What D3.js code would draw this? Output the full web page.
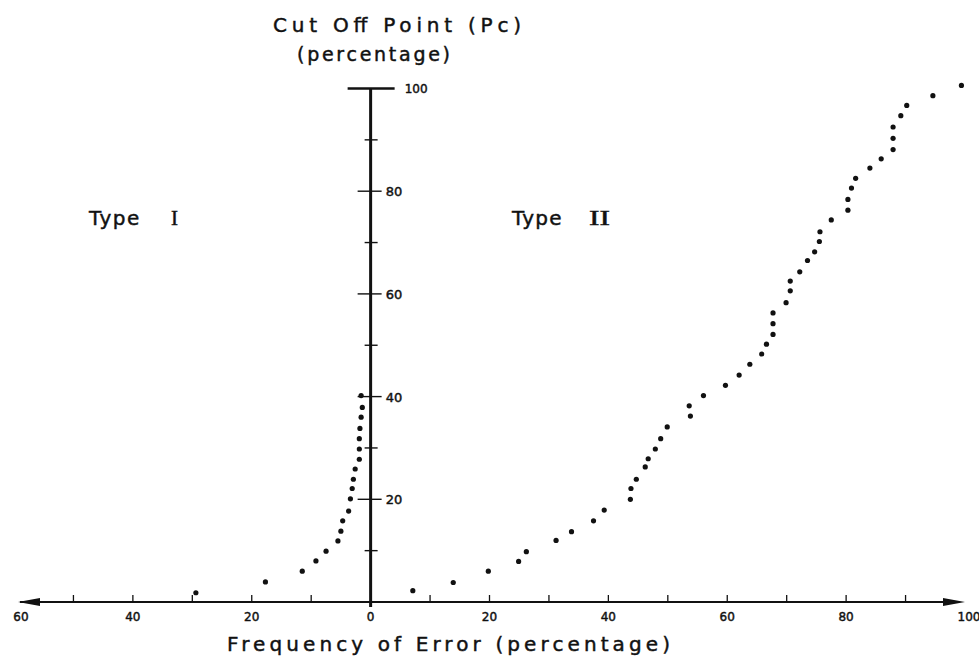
<!DOCTYPE html>
<html>
<head>
<meta charset="utf-8">
<script src="https://cdn.jsdelivr.net/npm/d3@7"></script>
<style>
  html, body { margin: 0; padding: 0; background: #fff; }
  svg { display: block; }
  text { font-family: "DejaVu Sans", sans-serif; fill: #111; stroke: #111; stroke-width: 0.45px; }
</style>
</head>
<body>
<svg id="chart" width="979" height="656"></svg>
<script>
// ---- data ----
// Type I error (percentage, drawn to the left of the vertical axis) by cut off point Pc
const typeICutoff = [40.2, 37.9, 36.0, 33.8, 31.8, 29.8, 27.8, 25.9, 23.9, 22.1, 20.1, 17.7, 15.8, 13.8, 11.9, 9.9, 8.0, 6.0, 3.9, 1.8];
const typeIError  = [1.6, 1.4, 1.6, 1.8, 1.9, 1.9, 1.9, 2.6, 2.9, 3.1, 3.4, 3.7, 4.7, 5.0, 5.5, 7.5, 9.2, 11.5, 17.7, 29.4];
// Type II error (percentage, drawn to the right) by cut off point Pc
const typeIICutoff = [2.2, 3.8, 6.0, 7.9, 9.8, 12.0, 13.7, 15.8, 17.9, 20.0, 22.1, 23.9, 26.3, 27.9, 29.8, 31.8, 34.1, 36.2, 38.2, 40.2,
                      42.2, 44.2, 46.3, 48.3, 50.2, 52.1, 54.2, 56.3, 58.3, 60.6, 62.5, 64.3, 66.5, 68.2, 70.2, 72.1, 74.4, 76.3, 78.4, 80.6,
                      82.5, 84.5, 86.3, 88.1, 90.3, 92.5, 94.7, 96.7, 98.6, 100.6];
const typeIIError  = [7.1, 13.9, 19.8, 24.9, 26.2, 31.2, 33.8, 37.5, 39.3, 43.7, 43.8, 44.7, 46.2, 46.7, 47.9, 48.8, 49.9, 53.8, 53.6, 56.0,
                      59.7, 62.0, 63.8, 65.8, 66.6, 67.7, 67.7, 67.7, 69.9, 70.6, 70.6, 72.2, 73.5, 74.7, 75.5, 75.6, 77.5, 80.3, 80.3, 80.9,
                      81.6, 84.0, 85.9, 87.9, 87.9, 87.9, 89.2, 90.2, 94.6, 99.4];
const xTickValues = [-60, -40, -20, 0, 20, 40, 60, 80, 100];
const xTickLabels = ["60", "40", "20", "0", "20", "40", "60", "80", "100"];
const xMinorTicks = [-50, -40, -30, -20, -10, 10, 20, 30, 40, 50, 60, 70, 80, 90];
const yLabelTicks = [20, 40, 60, 80];
const yMinorTicks = [10, 30, 50, 70, 90];
const titleText = "Cut Off Point  (Pc)";
const subtitleText = "(percentage)";
const xTitleText = "Frequency  of  Error  (percentage)";

// ---- scales ----
const x = d3.scaleLinear().domain([-60, 100]).range([14, 965]);
const y = d3.scaleLinear().domain([0, 100]).range([602, 88.5]);
const svg = d3.select("#chart");
const x0 = x(0);

// horizontal axis with arrowheads
svg.append("line").attr("x1", x(-60) + 6).attr("x2", x(100) - 8)
  .attr("y1", y(0)).attr("y2", y(0)).attr("stroke", "#111").attr("stroke-width", 2.2);
svg.append("path").attr("d", d3.line()([[x(-60) + 4, y(0)], [x(-60) + 26, y(0) - 4], [x(-60) + 26, y(0) + 4]]) + "Z").attr("fill", "#111");
svg.append("path").attr("d", d3.line()([[x(100), y(0)], [x(100) - 22, y(0) - 4], [x(100) - 22, y(0) + 4]]) + "Z").attr("fill", "#111");

// x ticks (small marks above the axis)
svg.selectAll(".xminor").data(xMinorTicks).enter().append("line")
  .attr("x1", d => x(d)).attr("x2", d => x(d))
  .attr("y1", y(0)).attr("y2", y(0) - 7)
  .attr("stroke", "#111").attr("stroke-width", 1.3);

svg.selectAll(".xlab").data(xTickValues).enter().append("text")
  .attr("x", (d) => d === -60 ? x(d) + 7 : (d === 100 ? x(d) + 4 : x(d)))
  .attr("y", 621)
  .attr("text-anchor", "middle")
  .attr("font-size", 12)
  .text((d, i) => xTickLabels[i]);

// vertical axis
svg.append("line").attr("x1", x0).attr("x2", x0)
  .attr("y1", y(100)).attr("y2", y(0) + 5)
  .attr("stroke", "#111").attr("stroke-width", 3);
// T bar at 100
svg.append("line").attr("x1", x0 - 23).attr("x2", x0 + 24)
  .attr("y1", y(100)).attr("y2", y(100))
  .attr("stroke", "#111").attr("stroke-width", 2.5);
svg.append("text").attr("x", x0 + 34).attr("y", y(100) + 4.5)
  .attr("font-size", 12).text("100");

// labelled y ticks
svg.selectAll(".ylt").data(yLabelTicks).enter().append("line")
  .attr("x1", x0 - 13).attr("x2", x0 + 11)
  .attr("y1", d => y(d)).attr("y2", d => y(d))
  .attr("stroke", "#111").attr("stroke-width", 1.4);
svg.selectAll(".ylab").data(yLabelTicks).enter().append("text")
  .attr("x", x0 + 15).attr("y", d => y(d) + 5)
  .attr("font-size", 13).text(d => d);
// minor y ticks
svg.selectAll(".ymt").data(yMinorTicks).enter().append("line")
  .attr("x1", x0 - 6).attr("x2", x0 + 7)
  .attr("y1", d => y(d)).attr("y2", d => y(d))
  .attr("stroke", "#111").attr("stroke-width", 1.4);

// points
const ptsI = typeICutoff.map((c, i) => ({ c, e: typeIError[i] }));
const ptsII = typeIICutoff.map((c, i) => ({ c, e: typeIIError[i] }));
svg.selectAll(".p1").data(ptsI).enter().append("circle")
  .attr("cx", d => x(-d.e)).attr("cy", d => y(d.c)).attr("r", 2.6).attr("fill", "#111");
svg.selectAll(".p2").data(ptsII).enter().append("circle")
  .attr("cx", d => x(d.e)).attr("cy", d => y(d.c)).attr("r", 2.6).attr("fill", "#111");

// titles
svg.append("text").attr("x", 273).attr("y", 32).attr("font-size", 20)
  .attr("textLength", 248).attr("lengthAdjust", "spacing").text(titleText);
svg.append("text").attr("x", 297).attr("y", 61).attr("font-size", 19)
  .attr("textLength", 153).attr("lengthAdjust", "spacing").text(subtitleText);
svg.append("text").attr("x", 227).attr("y", 651).attr("font-size", 20)
  .attr("textLength", 443).attr("lengthAdjust", "spacing").text(xTitleText);

// Type labels
const t1 = svg.append("text").attr("x", 89).attr("y", 225).attr("font-size", 20);
t1.append("tspan").attr("textLength", 58).attr("lengthAdjust", "spacing").text("Type ");
t1.append("tspan").attr("x", 171).attr("font-family", "Liberation Serif, serif").attr("font-size", 21).text("I");
const t2 = svg.append("text").attr("x", 512).attr("y", 225).attr("font-size", 20);
t2.append("tspan").attr("textLength", 57).attr("lengthAdjust", "spacing").text("Type ");
t2.append("tspan").attr("x", 589).attr("font-family", "Liberation Serif, serif").attr("font-size", 21)
  .attr("textLength", 21).attr("lengthAdjust", "spacingAndGlyphs").text("II");
</script>
</body>
</html>
